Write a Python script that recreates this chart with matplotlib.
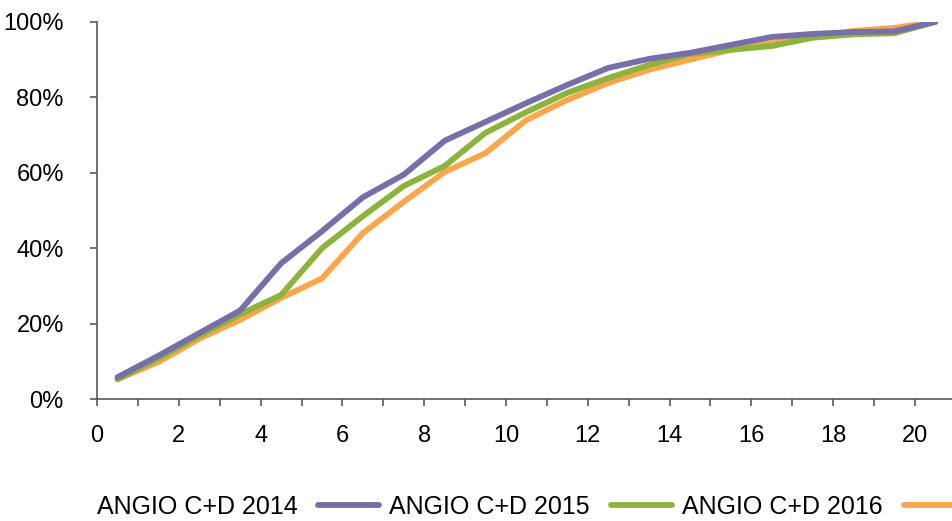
import matplotlib
matplotlib.use('Agg')
import matplotlib.pyplot as plt
from matplotlib.ticker import MultipleLocator, FuncFormatter

# data (cumulative share, %)
x_pos = [0.5, 1.5, 2.5, 3.5, 4.5, 5.5, 6.5, 7.5, 8.5, 9.5, 10.5,
         11.5, 12.5, 13.5, 14.5, 15.5, 16.5, 17.5, 18.5, 19.5, 20.5]
angio_2014 = [5.8, 11.5, 17.5, 23.5, 36.0, 44.5, 53.5, 59.5, 68.5, 73.5, 78.5,
              83.3, 87.8, 90.2, 91.8, 93.9, 96.0, 96.8, 97.3, 97.5, 100.0]
angio_2015 = [5.2, 10.8, 16.8, 22.5, 27.6, 40.0, 48.5, 56.5, 61.8, 70.6, 76.1,
              81.2, 85.1, 88.6, 91.5, 92.6, 93.6, 95.8, 96.7, 97.0, 100.0]
angio_2016 = [5.3, 9.8, 16.0, 21.0, 26.8, 32.0, 44.0, 52.3, 60.2, 65.2, 74.0,
              79.3, 83.8, 87.3, 90.0, 92.6, 94.4, 96.0, 97.6, 98.4, 100.0]
labels = ['ANGIO C+D 2014', 'ANGIO C+D 2015', 'ANGIO C+D 2016']
colors = ['#766FAA', '#8CB43C', '#FAA64B']

plt.rcParams['font.family'] = ['Liberation Sans', 'DejaVu Sans']

fig = plt.figure(figsize=(9.52, 5.21), dpi=100)
ax = fig.add_axes([0.102, 0.234, 0.902, 0.724])

series = [angio_2014, angio_2015, angio_2016]
lines = [None, None, None]
# draw orange first so purple sits on top
for i in [2, 1, 0]:
    lines[i], = ax.plot(x_pos, series[i], color=colors[i], lw=4.2,
                        solid_capstyle='round', solid_joinstyle='round',
                        label=labels[i], zorder=3 - i)

ax.set_xlim(0, 21)
ax.set_ylim(0, 100)
ax.xaxis.set_major_locator(MultipleLocator(2))
ax.xaxis.set_minor_locator(MultipleLocator(1))
ax.yaxis.set_major_locator(MultipleLocator(20))
ax.yaxis.set_major_formatter(FuncFormatter(lambda v, p: f'{int(v)}%'))

for s in ['top', 'right']:
    ax.spines[s].set_visible(False)
for s in ['left', 'bottom']:
    ax.spines[s].set_color('#595959')
    ax.spines[s].set_linewidth(1.2)

ax.tick_params(axis='x', which='both', direction='out', length=5, width=1.2,
               color='#595959', pad=14, labelsize=17)
ax.tick_params(axis='y', which='major', direction='out', length=5, width=1.2,
               color='#595959', pad=19, labelsize=17)

fig.legend(lines, labels, loc='center left', bbox_to_anchor=(0.091, 0.027),
           borderaxespad=0, ncol=3, frameon=False, markerfirst=False,
           handlelength=2.44, handletextpad=0.84, columnspacing=0.4, fontsize=18)

fig.savefig('out.png', dpi=100)
